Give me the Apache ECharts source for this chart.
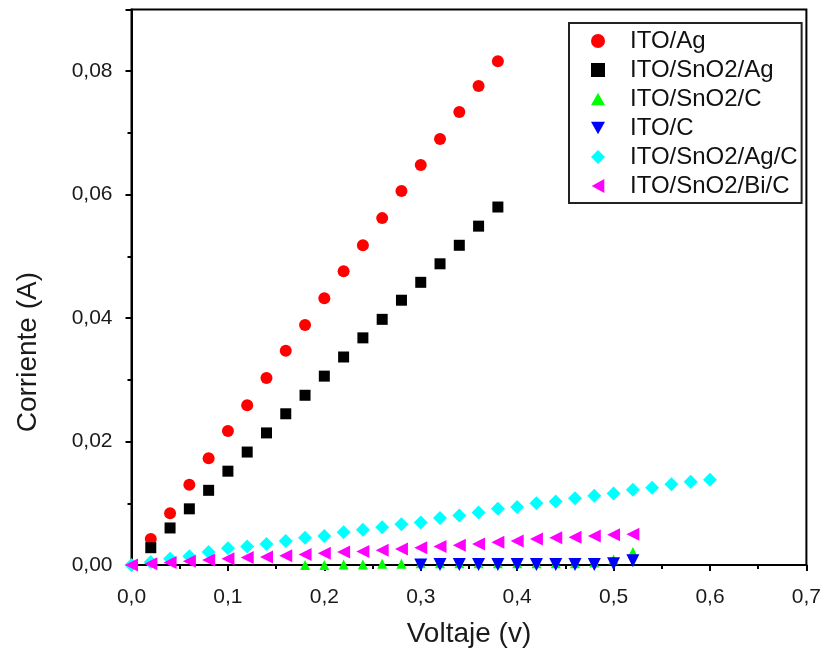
<!DOCTYPE html>
<html>
<head>
<meta charset="utf-8">
<script src="https://cdn.jsdelivr.net/npm/echarts@6/dist/echarts.min.js"></script>
<style>
html,body{margin:0;padding:0;background:#fff;}
#chart{width:824px;height:653px;}
</style>
</head>
<body>
<div id="chart"></div>
<script>
// ---- data (Voltaje in V, Corriente in A) ----
const seriesNames = ['ITO/Ag', 'ITO/SnO2/Ag', 'ITO/SnO2/C', 'ITO/C', 'ITO/SnO2/Ag/C', 'ITO/SnO2/Bi/C'];

const xAg = [0.02,0.04,0.06,0.08,0.10,0.12,0.14,0.16,0.18,0.20,0.22,0.24,0.26,0.28,0.30,0.32,0.34,0.36,0.38];
const yAg = [0.0042,0.0084,0.0130,0.0173,0.0217,0.0259,0.0303,0.0347,0.0389,0.0432,0.0476,0.0518,0.0562,0.0606,0.0648,0.0690,0.0734,0.0776,0.0816];

const xSnO2Ag = [0.02,0.04,0.06,0.08,0.10,0.12,0.14,0.16,0.18,0.20,0.22,0.24,0.26,0.28,0.30,0.32,0.34,0.36,0.38];
const ySnO2Ag = [0.0028,0.0060,0.0091,0.0121,0.0152,0.0183,0.0214,0.0245,0.0275,0.0306,0.0337,0.0368,0.0398,0.0429,0.0458,0.0488,0.0518,0.0549,0.0580];

const xSnO2C = [0.18,0.20,0.22,0.24,0.26,0.28,0.30,0.32,0.34,0.36,0.38,0.40,0.42,0.44,0.46,0.48,0.50,0.52];
const ySnO2C = [0.0000,0.0000,0.0001,0.0001,0.0002,0.0002,0.0003,0.0003,0.0003,0.0003,0.0003,0.0003,0.0003,0.0003,0.0003,0.0004,0.0009,0.0021];

const xC = [0.30,0.32,0.34,0.36,0.38,0.40,0.42,0.44,0.46,0.48,0.50,0.52];
const yC = [0.0000,0.0001,0.0001,0.0001,0.0001,0.0001,0.0001,0.0001,0.0001,0.0001,0.0002,0.0007];

const xSnO2AgC = [0.00,0.02,0.04,0.06,0.08,0.10,0.12,0.14,0.16,0.18,0.20,0.22,0.24,0.26,0.28,0.30,0.32,0.34,0.36,0.38,0.40,0.42,0.44,0.46,0.48,0.50,0.52,0.54,0.56,0.58,0.60];
const ySnO2AgC = [0.0000,0.0005,0.0010,0.0014,0.0021,0.0027,0.0030,0.0034,0.0039,0.0044,0.0047,0.0053,0.0057,0.0061,0.0066,0.0069,0.0076,0.0080,0.0085,0.0091,0.0094,0.0100,0.0103,0.0108,0.0112,0.0116,0.0122,0.0125,0.0131,0.0135,0.0138];

const xSnO2BiC = [0.00,0.02,0.04,0.06,0.08,0.10,0.12,0.14,0.16,0.18,0.20,0.22,0.24,0.26,0.28,0.30,0.32,0.34,0.36,0.38,0.40,0.42,0.44,0.46,0.48,0.50,0.52];
const ySnO2BiC = [0.0000,0.0002,0.0004,0.0006,0.0008,0.0010,0.0012,0.0013,0.0015,0.0017,0.0019,0.0021,0.0022,0.0024,0.0026,0.0028,0.0030,0.0032,0.0034,0.0037,0.0039,0.0042,0.0044,0.0045,0.0047,0.0049,0.0050];

const xTitle = 'Voltaje (v)';
const yTitle = 'Corriente (A)';

// ---- build ----
function pairs(xs, ys) { return xs.map((x, i) => [x, ys[i]]); }

const FONT = '"Liberation Sans", Arial, sans-serif';
const seriesDefs = [
  { name: seriesNames[0], data: pairs(xAg, yAg), symbol: 'circle', size: 12, color: '#ff0000' },
  { name: seriesNames[1], data: pairs(xSnO2Ag, ySnO2Ag), symbol: 'rect', size: 11, color: '#000000' },
  { name: seriesNames[2], data: pairs(xSnO2C, ySnO2C), symbol: 'path://M5,0 L10,9 L0,9 Z', size: 10, color: '#00ff00' },
  { name: seriesNames[3], data: pairs(xC, yC), symbol: 'path://M0,0 L10,0 L5,9 Z', size: 13, color: '#0000ff' },
  { name: seriesNames[4], data: pairs(xSnO2AgC, ySnO2AgC), symbol: 'diamond', size: 14, color: '#00ffff' },
  { name: seriesNames[5], data: pairs(xSnO2BiC, ySnO2BiC), symbol: 'path://M9,0 L9,10 L0,5 Z', size: 13, color: '#ff00ff' }
];

const chart = echarts.init(document.getElementById('chart'), null, { renderer: 'canvas' });
chart.setOption({
  animation: false,
  backgroundColor: '#ffffff',
  grid: { left: 131.5, right: 16.5, top: 9.5, bottom: 88, show: true, borderColor: '#000', borderWidth: 2, backgroundColor: 'transparent' },
  xAxis: {
    type: 'value', min: 0, max: 0.7, interval: 0.1,
    name: xTitle, nameLocation: 'middle', nameGap: 55,
    nameTextStyle: { fontFamily: FONT, fontSize: 28, color: '#1a1a1a' },
    axisLine: { show: true, onZero: false, lineStyle: { color: '#000', width: 2 } },
    axisTick: { show: true, inside: false, length: 6, lineStyle: { color: '#000', width: 2 } },
    minorTick: { show: true, splitNumber: 2, length: 4, lineStyle: { color: '#000', width: 2 } },
    splitLine: { show: false },
    axisLabel: { margin: 22, fontFamily: FONT, fontSize: 21, color: '#1a1a1a',
      formatter: v => v.toFixed(1).replace('.', ',') }
  },
  yAxis: {
    type: 'value', min: 0, max: 0.09, interval: 0.02,
    axisLine: { show: true, onZero: false, lineStyle: { color: '#000', width: 2 } },
    axisTick: { show: true, inside: false, length: 6, lineStyle: { color: '#000', width: 2 } },
    minorTick: { show: true, splitNumber: 2, length: 4, lineStyle: { color: '#000', width: 2 } },
    splitLine: { show: false },
    axisLabel: { margin: 19, fontFamily: FONT, fontSize: 21, color: '#1a1a1a',
      formatter: v => (v > 0.085 ? '' : v.toFixed(2).replace('.', ',')) }
  },
  legend: {
    orient: 'vertical', left: 569, top: 23,
    padding: [6, 4, 5, 22],
    itemWidth: 14, itemHeight: 14, itemGap: 5,
    borderColor: '#222', borderWidth: 2, backgroundColor: '#fff',
    textStyle: { fontFamily: FONT, fontSize: 24, color: '#111', padding: [0, 0, 0, 20] },
    data: seriesNames
  },
  graphic: [{
    type: 'text', left: 14, top: 272,
    rotation: Math.PI / 2,
    style: { text: yTitle, font: '28px "Liberation Sans", Arial, sans-serif', fill: '#1a1a1a' }
  }],
  series: seriesDefs.map(s => ({
    type: 'scatter', name: s.name, data: s.data,
    symbol: s.symbol, symbolSize: s.size, clip: false,
    itemStyle: { color: s.color, opacity: 1 },
    emphasis: { disabled: true }
  }))
});
</script>
</body>
</html>
